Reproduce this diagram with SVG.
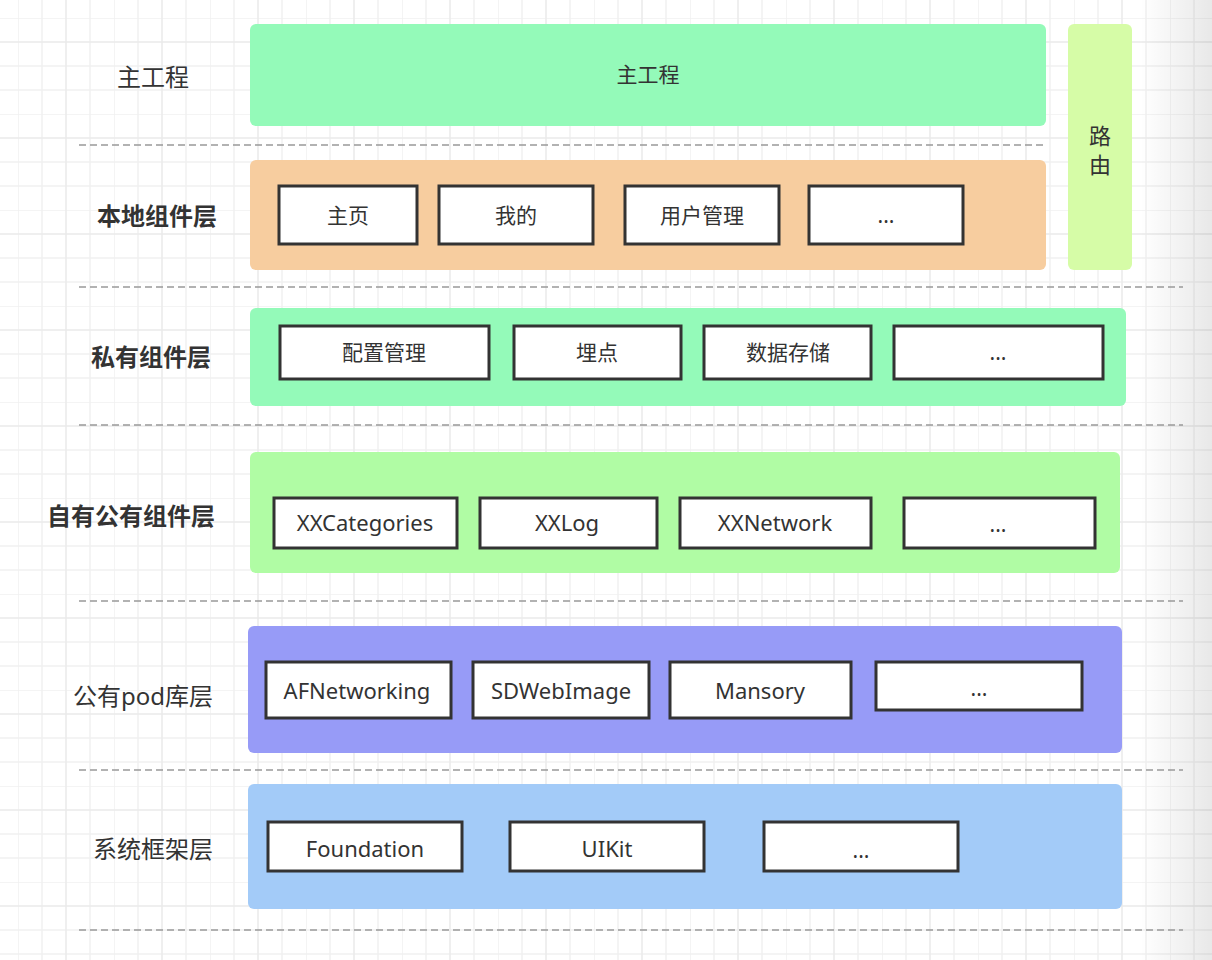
<svg xmlns="http://www.w3.org/2000/svg" width="1212" height="960" viewBox="0 0 1212 960">
<style>
text{font-family:"Noto Sans","Noto Sans CJK SC",sans-serif;fill:#333;dominant-baseline:central;text-anchor:middle}
.lbl{font-size:24px}
.rt{font-size:22px}
.bold{font-weight:bold}
.box{fill:#fff;stroke:#333;stroke-width:3}
.bt{font-size:21px}
.lt{font-size:22px}
.sep{stroke:#999;stroke-width:1.5;stroke-dasharray:7 4;fill:none}
</style>
<defs>
<pattern id="grid" x="18" y="18" width="96" height="96" patternUnits="userSpaceOnUse">
<path d="M0 0V96M24 0V96M72 0V96M0 0H96M0 48H96M0 72H96" stroke="#f1f1f1" stroke-width="1.5" fill="none"/>
<path d="M48 0V96M0 24H96" stroke="#eaeaea" stroke-width="1.5" fill="none"/>
</pattern>
<linearGradient id="shade" x1="0" y1="0" x2="1" y2="0">
<stop offset="0" stop-color="#000" stop-opacity="0"/>
<stop offset="1" stop-color="#000" stop-opacity="0.09"/>
</linearGradient>
</defs>
<rect width="1212" height="960" fill="#fff"/>
<rect width="1212" height="960" fill="url(#grid)"/>
<rect x="1140" y="0" width="72" height="960" fill="url(#shade)"/>

<g id="connectors">
<path class="sep" d="M79 145H1047"/>
<path class="sep" d="M79 287H1183"/>
<path class="sep" d="M79 425H1183"/>
<path class="sep" d="M79 601H1183"/>
<path class="sep" d="M79 770H1183"/>
<path class="sep" d="M79 930H1183"/>
</g>

<g id="labels">
<text class="lbl" x="153" y="76">主工程</text>
<text class="lbl bold" x="157" y="215">本地组件层</text>
<text class="lbl bold" x="151" y="356">私有组件层</text>
<text class="lbl bold" x="131" y="515">自有公有组件层</text>
<text class="lbl" x="143" y="695">公有pod库层</text>
<text class="lbl" x="153" y="848">系统框架层</text>
</g>

<g id="main">
<rect x="250" y="24" width="796" height="102" rx="6" fill="#94fab9"/>
<text class="bt" x="648" y="74">主工程</text>
</g>

<g id="router">
<rect x="1068" y="24" width="64" height="246" rx="6" fill="#d6fca7"/>
<text class="rt" x="1100" y="135">路</text>
<text class="rt" x="1100" y="164">由</text>
</g>

<g id="local-layer">
<rect x="250" y="160" width="796" height="110" rx="6" fill="#f7cd9f"/>
<g id="n-home"><rect class="box" x="279" y="186" width="138" height="58"/><text class="bt" x="348" y="215">主页</text></g>
<g id="n-mine"><rect class="box" x="439" y="186" width="154" height="58"/><text class="bt" x="516" y="215">我的</text></g>
<g id="n-user"><rect class="box" x="625" y="186" width="154" height="58"/><text class="bt" x="702" y="215">用户管理</text></g>
<g id="n-local-more"><rect class="box" x="809" y="186" width="154" height="58"/><text class="bt" x="886" y="215">...</text></g>
</g>

<g id="private-layer">
<rect x="250" y="308" width="876" height="98" rx="6" fill="#94fab9"/>
<g id="n-config"><rect class="box" x="280" y="326" width="209" height="53"/><text class="bt" x="384" y="352">配置管理</text></g>
<g id="n-track"><rect class="box" x="514" y="326" width="167" height="53"/><text class="bt" x="597" y="352">埋点</text></g>
<g id="n-storage"><rect class="box" x="704" y="326" width="167" height="53"/><text class="bt" x="788" y="352">数据存储</text></g>
<g id="n-private-more"><rect class="box" x="894" y="326" width="209" height="53"/><text class="bt" x="998" y="352">...</text></g>
</g>

<g id="own-public-layer">
<rect x="250" y="452" width="870" height="121" rx="6" fill="#b0fca4"/>
<g id="n-categories"><rect class="box" x="274" y="498" width="183" height="50"/><text class="lt" x="365" y="522">XXCategories</text></g>
<g id="n-log"><rect class="box" x="480" y="498" width="177" height="50"/><text class="lt" x="567" y="522">XXLog</text></g>
<g id="n-network"><rect class="box" x="680" y="498" width="191" height="50"/><text class="lt" x="775" y="522">XXNetwork</text></g>
<g id="n-own-more"><rect class="box" x="904" y="498" width="191" height="50"/><text class="bt" x="998" y="524">...</text></g>
</g>

<g id="pod-layer">
<rect x="248" y="626" width="874" height="127" rx="6" fill="#979bf7"/>
<g id="n-afn"><rect class="box" x="266" y="662" width="185" height="56"/><text class="lt" x="357" y="690">AFNetworking</text></g>
<g id="n-sdweb"><rect class="box" x="473" y="662" width="176" height="56"/><text class="lt" x="561" y="690">SDWebImage</text></g>
<g id="n-masonry"><rect class="box" x="670" y="662" width="181" height="56"/><text class="lt" x="760" y="690">Mansory</text></g>
<g id="n-pod-more"><rect class="box" x="876" y="662" width="206" height="48"/><text class="bt" x="979" y="688">...</text></g>
</g>

<g id="system-layer">
<rect x="248" y="784" width="874" height="125" rx="6" fill="#a3cbf8"/>
<g id="n-foundation"><rect class="box" x="268" y="822" width="194" height="49"/><text class="lt" x="365" y="848">Foundation</text></g>
<g id="n-uikit"><rect class="box" x="510" y="822" width="194" height="49"/><text class="lt" x="607" y="848">UIKit</text></g>
<g id="n-system-more"><rect class="box" x="764" y="822" width="194" height="49"/><text class="bt" x="861" y="850">...</text></g>
</g>
</svg>
